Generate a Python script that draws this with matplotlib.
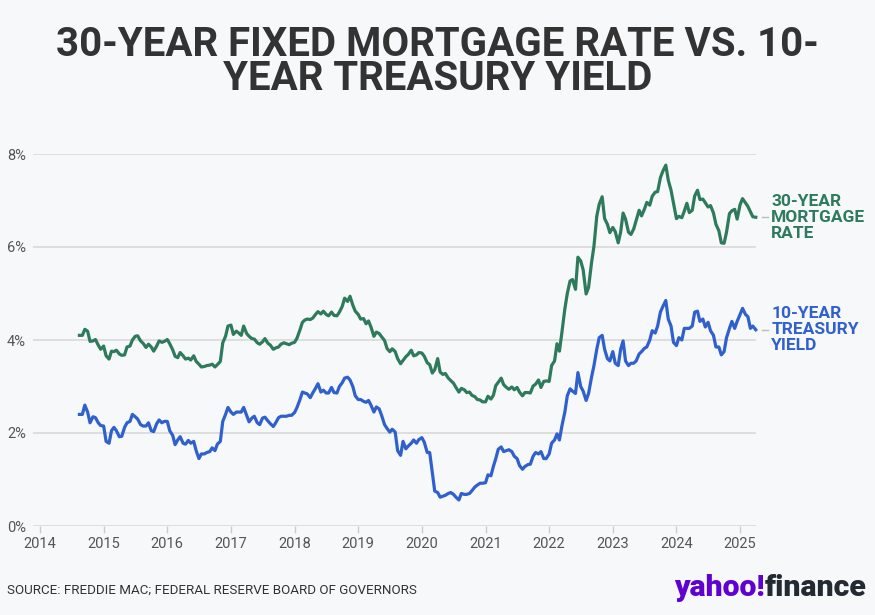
import matplotlib
matplotlib.use("Agg")
import matplotlib.pyplot as plt
import matplotlib.transforms as mtransforms
import pandas as pd

# semi-monthly readings (1st and 15th), Aug 15 2014 .. Apr 1 2025
start_date = "2014-08-15"

mortgage_2014 = [4.10, 4.10, 4.23, 4.19, 3.97, 3.98, 4.01, 3.89, 3.80]
mortgage_2015 = [3.87, 3.66, 3.59, 3.76, 3.75, 3.78, 3.70, 3.67, 3.68, 3.85, 3.87, 4.00,
                 4.08, 4.09, 3.98, 3.93, 3.84, 3.91, 3.85, 3.76, 3.87, 3.98, 3.95, 3.97]
mortgage_2016 = [4.01, 3.92, 3.79, 3.65, 3.62, 3.73, 3.66, 3.59, 3.61, 3.57, 3.66, 3.54,
                 3.48, 3.42, 3.43, 3.45, 3.46, 3.48, 3.42, 3.47, 3.54, 3.94, 4.08, 4.30]
mortgage_2017 = [4.32, 4.12, 4.19, 4.15, 4.10, 4.30, 4.14, 4.08, 4.03, 4.02, 3.94, 3.91,
                 3.96, 4.03, 3.93, 3.89, 3.80, 3.83, 3.85, 3.91, 3.94, 3.92, 3.90, 3.93]
mortgage_2018 = [3.95, 4.04, 4.22, 4.38, 4.43, 4.45, 4.44, 4.47, 4.55, 4.61, 4.56, 4.62,
                 4.55, 4.52, 4.60, 4.53, 4.52, 4.60, 4.72, 4.90, 4.83, 4.94, 4.75, 4.62]
mortgage_2019 = [4.55, 4.45, 4.46, 4.35, 4.41, 4.28, 4.08, 4.17, 4.14, 4.07, 3.99, 3.82,
                 3.75, 3.81, 3.75, 3.60, 3.49, 3.56, 3.64, 3.69, 3.78, 3.66, 3.68, 3.73]
mortgage_2020 = [3.72, 3.65, 3.51, 3.47, 3.29, 3.36, 3.60, 3.31, 3.26, 3.28, 3.18, 3.13,
                 3.07, 2.98, 2.88, 2.96, 2.93, 2.87, 2.88, 2.81, 2.78, 2.72, 2.71, 2.67]
mortgage_2021 = [2.67, 2.79, 2.73, 2.81, 3.02, 3.09, 3.18, 3.04, 2.98, 2.94, 2.99, 2.93,
                 2.98, 2.88, 2.80, 2.87, 2.87, 2.86, 3.01, 3.05, 3.14, 2.98, 3.11, 3.12]
mortgage_2022 = [3.11, 3.45, 3.55, 3.92, 3.76, 4.16, 4.67, 5.00, 5.27, 5.30, 5.09, 5.78,
                 5.70, 5.51, 4.99, 5.13, 5.66, 6.02, 6.66, 6.92, 7.08, 6.61, 6.49, 6.31]
mortgage_2023 = [6.42, 6.33, 6.09, 6.32, 6.73, 6.60, 6.32, 6.27, 6.39, 6.57, 6.79, 6.67,
                 6.81, 6.96, 6.90, 7.09, 7.18, 7.19, 7.49, 7.63, 7.76, 7.44, 7.22, 6.95]
mortgage_2024 = [6.61, 6.66, 6.63, 6.77, 6.94, 6.74, 6.79, 7.10, 7.22, 7.02, 7.03, 6.95,
                 6.86, 6.89, 6.73, 6.49, 6.35, 6.09, 6.08, 6.32, 6.72, 6.78, 6.81, 6.60]
mortgage_2025 = [6.91, 7.04, 6.95, 6.87, 6.76, 6.65, 6.64]

treasury_2014 = [2.40, 2.40, 2.60, 2.45, 2.22, 2.35, 2.33, 2.22, 2.16]
treasury_2015 = [2.15, 1.82, 1.78, 2.05, 2.12, 2.05, 1.92, 1.93, 2.12, 2.22, 2.25, 2.40,
                 2.35, 2.30, 2.18, 2.15, 2.15, 2.22, 2.05, 2.03, 2.20, 2.28, 2.22, 2.25]
treasury_2016 = [2.25, 2.05, 1.95, 1.75, 1.85, 1.92, 1.78, 1.76, 1.84, 1.78, 1.82, 1.62,
                 1.45, 1.55, 1.55, 1.58, 1.60, 1.68, 1.62, 1.76, 1.82, 2.25, 2.40, 2.55]
treasury_2017 = [2.45, 2.40, 2.45, 2.45, 2.45, 2.55, 2.38, 2.24, 2.32, 2.36, 2.22, 2.18,
                 2.32, 2.34, 2.26, 2.20, 2.14, 2.22, 2.33, 2.36, 2.36, 2.36, 2.38, 2.38]
treasury_2018 = [2.44, 2.55, 2.72, 2.88, 2.86, 2.84, 2.76, 2.86, 2.96, 3.06, 2.88, 2.92,
                 2.86, 2.86, 2.98, 2.87, 2.86, 3.00, 3.08, 3.18, 3.20, 3.14, 3.00, 2.80]
treasury_2019 = [2.72, 2.72, 2.68, 2.66, 2.70, 2.60, 2.45, 2.56, 2.52, 2.38, 2.18, 2.10,
                 2.02, 2.08, 2.02, 1.62, 1.52, 1.82, 1.66, 1.72, 1.78, 1.85, 1.78, 1.86]
treasury_2020 = [1.90, 1.80, 1.58, 1.58, 1.15, 0.75, 0.72, 0.62, 0.64, 0.66, 0.70, 0.72,
                 0.68, 0.62, 0.56, 0.70, 0.68, 0.68, 0.70, 0.76, 0.84, 0.88, 0.92, 0.92]
treasury_2021 = [0.93, 1.10, 1.08, 1.28, 1.45, 1.65, 1.70, 1.60, 1.62, 1.64, 1.60, 1.50,
                 1.45, 1.30, 1.22, 1.28, 1.32, 1.33, 1.50, 1.58, 1.55, 1.60, 1.45, 1.45]
treasury_2022 = [1.55, 1.78, 1.85, 1.98, 1.85, 2.15, 2.45, 2.80, 2.95, 2.90, 2.85, 3.30,
                 3.00, 2.90, 2.70, 2.85, 3.20, 3.45, 3.80, 4.05, 4.10, 3.80, 3.60, 3.55]
treasury_2023 = [3.75, 3.50, 3.45, 3.80, 3.98, 3.55, 3.45, 3.50, 3.50, 3.55, 3.70, 3.75,
                 3.82, 3.85, 4.00, 4.20, 4.15, 4.30, 4.60, 4.72, 4.85, 4.45, 4.30, 3.95]
treasury_2024 = [3.88, 4.05, 4.00, 4.25, 4.25, 4.25, 4.30, 4.60, 4.62, 4.40, 4.45, 4.28,
                 4.38, 4.20, 4.10, 3.85, 3.85, 3.68, 3.75, 4.05, 4.25, 4.40, 4.25, 4.40]
treasury_2025 = [4.55, 4.68, 4.55, 4.50, 4.25, 4.30, 4.22]

year_ticks = list(range(2014, 2026))
pct_ticks = [0, 2, 4, 6, 8]

mortgage = (mortgage_2014 + mortgage_2015 + mortgage_2016 + mortgage_2017 + mortgage_2018
            + mortgage_2019 + mortgage_2020 + mortgage_2021 + mortgage_2022 + mortgage_2023
            + mortgage_2024 + mortgage_2025)
treasury = (treasury_2014 + treasury_2015 + treasury_2016 + treasury_2017 + treasury_2018
            + treasury_2019 + treasury_2020 + treasury_2021 + treasury_2022 + treasury_2023
            + treasury_2024 + treasury_2025)
assert len(mortgage) == len(treasury)

dates = pd.date_range(start_date, periods=len(mortgage), freq="SMS")
x = dates.year + (dates.dayofyear - 1) / (365 + dates.is_leap_year)

GREEN = "#2e7a5c"
BLUE = "#2f60cc"
BG = "#f7f8fa"

plt.rcParams["font.family"] = ["Roboto", "DejaVu Sans"]

fig = plt.figure(figsize=(8.75, 6.15), dpi=100, facecolor=BG)
ax = fig.add_axes([33 / 875, 1 - 526 / 615, (756 - 33) / 875, (526 - 154) / 615])
ax.set_facecolor(BG)

ax.plot(x, mortgage, color=GREEN, lw=2.3, solid_joinstyle="round", clip_on=False, zorder=3)
ax.plot(x, treasury, color=BLUE, lw=2.3, solid_joinstyle="round", clip_on=False, zorder=3)

ax.set_xlim(2013.89, 2025.25)
ax.set_ylim(0, 8)
ax.set_yticks(pct_ticks)
ax.set_yticklabels([f"{v}%" for v in pct_ticks])
ax.set_xticks(year_ticks)
ax.set_xticklabels([str(y) for y in year_ticks])
ax.grid(axis="y", color="#dcdcdc", lw=1.3)
ax.set_axisbelow(True)
for s in ax.spines.values():
    s.set_visible(False)
ax.tick_params(axis="y", length=0, pad=5, labelsize=10.5, labelcolor="#555555")
ax.tick_params(axis="x", length=5, width=1, color="#cccccc", pad=3,
               labelsize=10.5, labelcolor="#555555")

# end labels
trans = mtransforms.blended_transform_factory(ax.transAxes, ax.transData)
for series, label, col in [(mortgage, "30-YEAR\nMORTGAGE\nRATE", GREEN),
                           (treasury, "10-YEAR\nTREASURY\nYIELD", BLUE)]:
    yv = series[-1]
    ax.plot([1.008, 1.017], [yv, yv], color="#bbbbbb", lw=1, transform=trans, clip_on=False)
    ax.text(1.021, yv, label, transform=trans, color=col, fontsize=12.5,
            fontweight="bold", va="center", ha="left", linespacing=1.08)

fig.text(0.5, 1 - 62 / 615, "30-YEAR FIXED MORTGAGE RATE VS. 10-\nYEAR TREASURY YIELD",
         ha="center", va="center", fontsize=29, fontweight="bold", color="#333333",
         linespacing=0.9)

fig.text(7 / 875, 1 - 590 / 615, "SOURCE: FREDDIE MAC; FEDERAL RESERVE BOARD OF GOVERNORS",
         ha="left", va="center", fontsize=9.6, color="#333333")

t1 = fig.text(674 / 875, 1 - 588 / 615, "yahoo!", ha="left", va="center",
              fontsize=21.8, fontweight="heavy", color="#6001d2")
fig.canvas.draw()
bb = t1.get_window_extent()
fig.text(bb.x1 / 875, 1 - 588 / 615, "finance", ha="left", va="center",
         fontsize=21.8, fontweight="heavy", color="#232a31")

fig.savefig("out.png", dpi=100, facecolor=BG)
